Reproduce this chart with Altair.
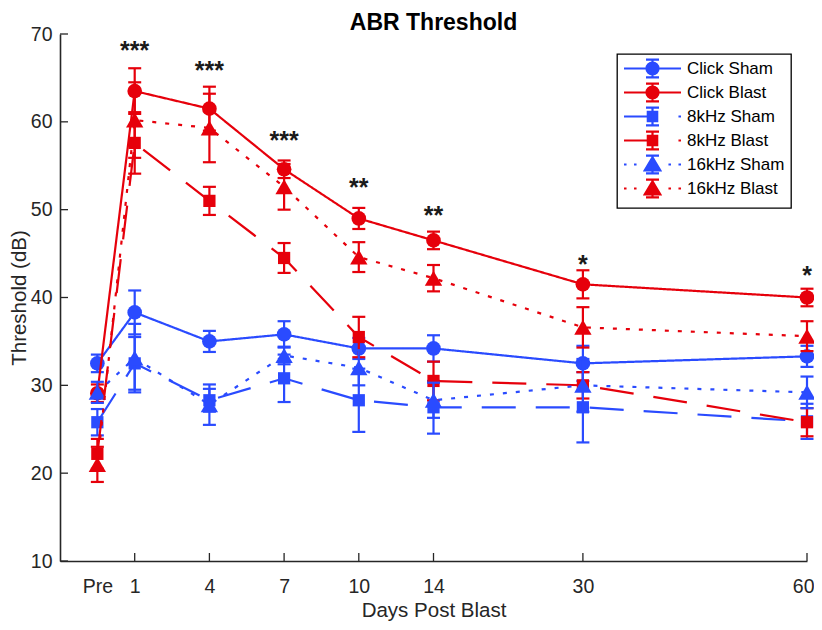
import altair as alt
import pandas as pd

# ---------------- data ----------------
series = ["Click Sham", "Click Blast", "8kHz Sham", "8kHz Blast", "16kHz Sham", "16kHz Blast"]
x_index = [-0.5, 0, 1, 2, 3, 4, 6, 9]
day_labels = ["Pre", "1", "4", "7", "10", "14", "30", "60"]

click_sham = [32.5, 38.3, 35.0, 35.8, 34.2, 34.2, 32.5, 33.3]
click_sham_err = [1.0, 2.5, 1.2, 1.5, 1.2, 1.5, 2.0, 1.2]
click_blast = [29.1, 63.5, 61.5, 54.6, 49.0, 46.5, 41.5, 40.0]
click_blast_err = [1.0, 2.6, 2.5, 1.0, 1.2, 1.0, 1.6, 1.0]
k8_sham = [25.8, 32.5, 28.3, 30.8, 28.3, 27.5, 27.5, 25.9]
k8_sham_err = [1.5, 3.0, 1.3, 2.7, 3.6, 3.0, 4.0, 2.0]
k8_blast = [22.2, 57.6, 51.0, 44.5, 35.5, 30.5, 30.0, 25.8]
k8_blast_err = [1.7, 3.5, 1.6, 1.7, 2.3, 2.2, 1.5, 1.6]
k16_sham = [29.2, 33.1, 27.8, 33.4, 32.0, 28.3, 30.0, 29.2]
k16_sham_err = [1.2, 3.9, 2.3, 1.0, 2.0, 2.0, 3.0, 1.8]
k16_blast = [21.0, 60.2, 59.3, 52.6, 44.6, 42.2, 36.6, 35.6]
k16_blast_err = [2.0, 4.3, 3.9, 2.6, 1.7, 1.5, 2.3, 1.7]

means = [click_sham, click_blast, k8_sham, k8_blast, k16_sham, k16_blast]
errs = [click_sham_err, click_blast_err, k8_sham_err, k8_blast_err, k16_sham_err, k16_blast_err]

# significance marks
star_x = [0, 1, 2, 3, 4, 6, 9]
star_y = [68.9, 66.6, 58.6, 53.3, 50.1, 44.5, 43.2]
star_text = ["***", "***", "***", "**", "**", "*", "*"]

y_ticks = [10, 20, 30, 40, 50, 60, 70]
chart_title = ["ABR Threshold"]

# ---------------- styles ----------------
BLUE = "#2a4bff"
RED = "#e6000b"
colors = [BLUE, RED, BLUE, RED, BLUE, RED]
shapes = ["circle", "circle", "square", "square", "triangle-up", "triangle-up"]
sizes = [215, 215, 150, 150, 300, 300]
dashes = [[1, 0], [1, 0], [34, 20], [34, 20], [4, 9], [4, 9]]
FONT = "Liberation Sans"
AX = "#262626"
W, H = 747, 527
LW = 2.2

rows = []
for s, m, e in zip(series, means, errs):
    for xi, v, er in zip(x_index, m, e):
        rows.append({"series": s, "x": xi, "y": v, "lo": v - er, "hi": v + er})
df = pd.DataFrame(rows)
stars = pd.DataFrame({"x": star_x, "y": star_y, "t": star_text})


def fmt(v):
    return str(int(v)) if float(v).is_integer() else str(v)


label_expr = "{" + ",".join(f"'{fmt(v)}':'{l}'" for v, l in zip(x_index, day_labels)) + "}[datum.value]"

xscale = alt.Scale(domain=[-1, 9], nice=False, zero=False)
yscale = alt.Scale(domain=[10, 70], nice=False, zero=False)

xaxis = alt.Axis(values=x_index, labelExpr=label_expr, ticks=False, grid=False,
                 labelFontSize=19.5, labelFont=FONT, labelColor=AX, labelPadding=16,
                 labelFlush=True, labelFlushOffset=7, labelOverlap=False,
                 domainColor=AX, domainWidth=1.6,
                 title="Days Post Blast", titleFont=FONT, titleFontSize=20.5,
                 titleFontWeight="normal", titleColor=AX, titlePadding=5)
yaxis = alt.Axis(values=y_ticks, ticks=False, grid=False,
                 labelFontSize=19.5, labelFont=FONT, labelColor=AX, labelPadding=8,
                 labelFlush=False,
                 domainColor=AX, domainWidth=1.6,
                 title="Threshold (dB)", titleFont=FONT, titleFontSize=20.5,
                 titleFontWeight="normal", titleColor=AX, titlePadding=1)

base = alt.Chart(df)
layers = []

# invisible layer carrying the axes
layers.append(base.mark_point(opacity=0).encode(
    x=alt.X("x:Q", scale=xscale, axis=xaxis),
    y=alt.Y("y:Q", scale=yscale, axis=yaxis)))

# inward ticks
layers.append(alt.Chart(pd.DataFrame({"x": x_index[1:]})).mark_rule(color=AX, strokeWidth=1.3).encode(
    x=alt.X("x:Q", scale=xscale), y=alt.value(H), y2=alt.value(H - 8)))
layers.append(alt.Chart(pd.DataFrame({"y": y_ticks})).mark_rule(color=AX, strokeWidth=1.3).encode(
    y=alt.Y("y:Q", scale=yscale), x=alt.value(0), x2=alt.value(8)))

for s, c, sh, sz, d in zip(series, colors, shapes, sizes, dashes):
    b = base.transform_filter(alt.datum.series == s)
    layers.append(b.mark_rule(color=c, strokeWidth=LW).encode(
        x=alt.X("x:Q", scale=xscale), y=alt.Y("lo:Q", scale=yscale), y2="hi:Q"))
    for f in ["lo", "hi"]:
        layers.append(b.mark_rule(color=c, strokeWidth=LW, xOffset=-6.5, x2Offset=6.5).encode(
            x=alt.X("x:Q", scale=xscale), x2="x:Q", y=alt.Y(f"{f}:Q", scale=yscale)))
    layers.append(b.mark_line(color=c, strokeWidth=LW, strokeDash=d).encode(
        x=alt.X("x:Q", scale=xscale), y=alt.Y("y:Q", scale=yscale), order="x:Q"))
    layers.append(b.mark_point(shape=sh, filled=True, opacity=1, color=c, size=sz).encode(
        x=alt.X("x:Q", scale=xscale), y=alt.Y("y:Q", scale=yscale)))

# significance asterisks
layers.append(alt.Chart(stars).mark_text(
    font=FONT, fontSize=25, fontWeight="bold", color="#1a1a1a",
    align="center", baseline="alphabetic", dy=15).encode(
    x=alt.X("x:Q", scale=xscale), y=alt.Y("y:Q", scale=yscale), text="t:N"))

# title as text
layers.append(alt.Chart(pd.DataFrame({"t": chart_title})).mark_text(
    font=FONT, fontSize=23, fontWeight="bold", color="black",
    align="center", baseline="alphabetic").encode(
    text="t:N", x=alt.value(W / 2), y=alt.value(-4)))

# legend symbols: line + error bar + marker as one path (unit = 7 px, symbolSize 196)
ERR = "M0,-1.28L0,1.28M-0.93,-1.28L0.93,-1.28M-0.93,1.28L0.93,1.28"
MARK = {
    "circle": "M-0.86,0A0.86,0.86,0,1,1,0.86,0A0.86,0.86,0,1,1,-0.86,0Z",
    "square": "M-0.67,-0.67L0.67,-0.67L0.67,0.67L-0.67,0.67Z",
    "triangle-up": "M0,-1.03L1.11,0.83L-1.11,0.83Z",
}
LINE = {
    "solid": "M-4.07,0L4.07,0",
    "dash": "M-4.07,0L0,0M3.71,0L4.07,0",
    "dot": "M-4.07,0L-3.71,0M-2.64,0L-2.28,0M2.28,0L2.64,0M3.71,0L4.07,0",
}
line_kind = ["solid", "solid", "dash", "dash", "dot", "dot"]
legend_paths = [LINE[k] + ERR + MARK[sh] for k, sh in zip(line_kind, shapes)]

leg = alt.Legend(orient="none", legendX=557, legendY=20, title=None,
                 padding=6, symbolSize=196, symbolStrokeWidth=LW, symbolOpacity=1,
                 labelFont=FONT, labelFontSize=17, labelColor="black",
                 labelOffset=26, symbolOffset=21, rowPadding=-3,
                 strokeColor="black", fillColor="white")
layers.append(alt.Chart(pd.DataFrame({"series": series})).transform_filter("false").mark_point(
    filled=True, size=196, opacity=1).encode(
    fill=alt.Fill("series:N", scale=alt.Scale(domain=series, range=colors), legend=leg),
    stroke=alt.Stroke("series:N", scale=alt.Scale(domain=series, range=colors), legend=leg),
    shape=alt.Shape("series:N", scale=alt.Scale(domain=series, range=legend_paths), legend=leg)))

chart = alt.layer(*layers).properties(
    width=W, height=H,
    autosize=alt.AutoSizeParams(type="none"),
    padding={"left": 52, "top": 26, "right": 7, "bottom": 64},
).configure_view(stroke=None).configure_legend(strokeWidth=1.3)

chart.save("out.html", embed_options={"renderer": "svg", "actions": False})
